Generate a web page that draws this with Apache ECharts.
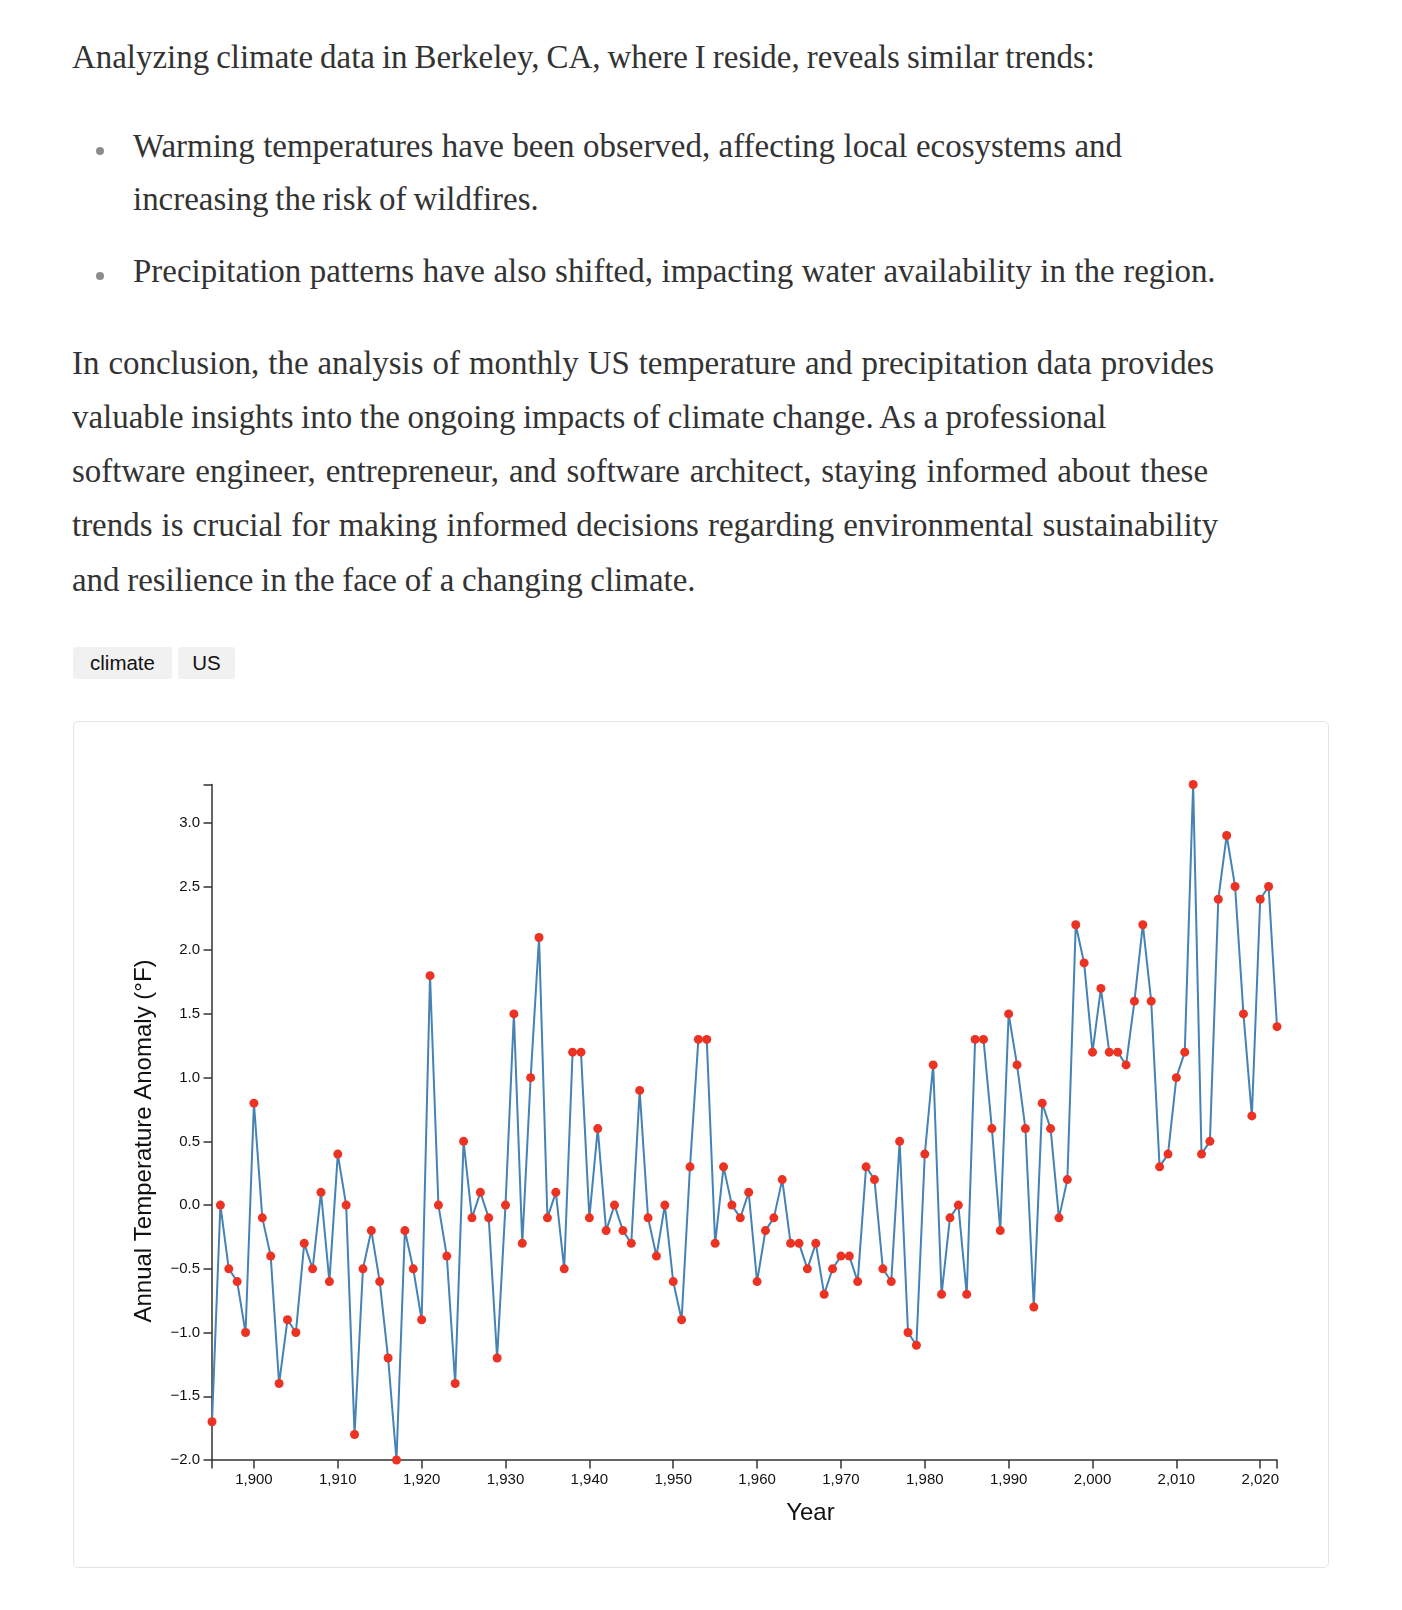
<!DOCTYPE html>
<html>
<head>
<meta charset="utf-8">
<script src="https://cdn.jsdelivr.net/npm/echarts@6/dist/echarts.min.js"></script>
<style>
html,body{margin:0;padding:0;background:#fff;}
body{width:1402px;height:1610px;position:relative;overflow:hidden;}
.t{position:absolute;white-space:nowrap;font-family:'Liberation Serif','Times New Roman',serif;color:#333;line-height:1;}
.b{position:absolute;width:8px;height:8px;border-radius:50%;background:#8c8c8c;}
.tag{position:absolute;background:#f1f1f1;border-radius:3px;font-family:'Liberation Sans',Arial,sans-serif;font-size:20.5px;color:#111;text-align:center;height:32px;line-height:32px;top:647px;}
#card{position:absolute;left:73px;top:721px;width:1256px;height:847px;box-sizing:border-box;border:1px solid #e4e4e4;border-radius:5px;}
#chart{position:absolute;left:73px;top:721px;width:1256px;height:847px;}
</style>
</head>
<body>
<div class="t" data-bl="68.3" data-w="1023" style="left:72px">Analyzing climate data in Berkeley, CA, where I reside, reveals similar trends:</div>
<div class="b" style="left:96px;top:147px"></div>
<div class="t" data-bl="157.7" data-w="989" style="left:133px">Warming temperatures have been observed, affecting local ecosystems and</div>
<div class="t" data-bl="210.7" data-w="405.7" style="left:133px">increasing the risk of wildfires.</div>
<div class="b" style="left:96px;top:272px"></div>
<div class="t" data-bl="282.3" data-w="1082.6" style="left:133px">Precipitation patterns have also shifted, impacting water availability in the region.</div>
<div class="t" data-bl="374.3" data-w="1142.1" style="left:72px">In conclusion, the analysis of monthly US temperature and precipitation data provides</div>
<div class="t" data-bl="428.5" data-w="1036.3" style="left:72px">valuable insights into the ongoing impacts of climate change. As a professional</div>
<div class="t" data-bl="482.7" data-w="1136" style="left:72px">software engineer, entrepreneur, and software architect, staying informed about these</div>
<div class="t" data-bl="536.9" data-w="1146.2" style="left:72px">trends is crucial for making informed decisions regarding environmental sustainability</div>
<div class="t" data-bl="591.1" data-w="623.5" style="left:72px">and resilience in the face of a changing climate.</div>
<div class="tag" style="left:73px;width:99px">climate</div>
<div class="tag" style="left:178px;width:57px">US</div>
<div id="card"></div>
<div id="chart"></div>
<script>
// ---- data ----
const startYear = 1895;
const anomalies = [
  -1.7, 0.0, -0.5, -0.6, -1.0,            // 1895-1899
  0.8, -0.1, -0.4, -1.4, -0.9, -1.0, -0.3, -0.5, 0.1, -0.6,   // 1900s
  0.4, 0.0, -1.8, -0.5, -0.2, -0.6, -1.2, -2.0, -0.2, -0.5,   // 1910s
  -0.9, 1.8, 0.0, -0.4, -1.4, 0.5, -0.1, 0.1, -0.1, -1.2,     // 1920s
  0.0, 1.5, -0.3, 1.0, 2.1, -0.1, 0.1, -0.5, 1.2, 1.2,        // 1930s
  -0.1, 0.6, -0.2, 0.0, -0.2, -0.3, 0.9, -0.1, -0.4, 0.0,     // 1940s
  -0.6, -0.9, 0.3, 1.3, 1.3, -0.3, 0.3, 0.0, -0.1, 0.1,       // 1950s
  -0.6, -0.2, -0.1, 0.2, -0.3, -0.3, -0.5, -0.3, -0.7, -0.5,  // 1960s
  -0.4, -0.4, -0.6, 0.3, 0.2, -0.5, -0.6, 0.5, -1.0, -1.1,    // 1970s
  0.4, 1.1, -0.7, -0.1, 0.0, -0.7, 1.3, 1.3, 0.6, -0.2,       // 1980s
  1.5, 1.1, 0.6, -0.8, 0.8, 0.6, -0.1, 0.2, 2.2, 1.9,         // 1990s
  1.2, 1.7, 1.2, 1.2, 1.1, 1.6, 2.2, 1.6, 0.3, 0.4,           // 2000s
  1.0, 1.2, 3.3, 0.4, 0.5, 2.4, 2.9, 2.5, 1.5, 0.7,           // 2010s
  2.4, 2.5, 1.4                                               // 2020-2022
];
const years = anomalies.map((_, i) => startYear + i);
const xTickLabels = [1900, 1910, 1920, 1930, 1940, 1950, 1960, 1970, 1980, 1990, 2000, 2010, 2020];
const yTickLabels = [-2.0, -1.5, -1.0, -0.5, 0.0, 0.5, 1.0, 1.5, 2.0, 2.5, 3.0];
const xTitle = 'Year';
const yTitle = 'Annual Temperature Anomaly (°F)';

// ---- text layout: fit serif size and word spacing to the reference line widths ----
(function(){
  const lines = Array.from(document.querySelectorAll('.t'));
  const ctx = document.createElement('canvas').getContext('2d');
  ctx.font = '100px "Liberation Serif"';
  let sumTarget = 0, sumMeasured = 0;
  lines.forEach(el => { sumTarget += parseFloat(el.dataset.w); sumMeasured += ctx.measureText(el.textContent).width; });
  const fs = 100 * sumTarget / sumMeasured;
  ctx.font = fs + 'px "Liberation Serif"';
  lines.forEach(el => {
    const txt = el.textContent;
    const w = ctx.measureText(txt).width;
    const spaces = (txt.match(/ /g) || []).length;
    el.style.fontSize = fs + 'px';
    if (spaces) el.style.wordSpacing = ((parseFloat(el.dataset.w) - w) / spaces) + 'px';
    el.style.top = (parseFloat(el.dataset.bl) - 0.8375 * fs) + 'px';
  });
})();

// ---- chart ----
const xMin = years[0], xMax = years[years.length - 1];
const yMin = -2.0, yMax = Math.max(...anomalies);
const axisColor = '#333';
const labelFont = {fontSize: 15, color: '#111', fontFamily: '"Liberation Sans", Arial, sans-serif'};

const chart = echarts.init(document.getElementById('chart'), null, {renderer: 'canvas'});
chart.setOption({
  animation: false,
  grid: {left: 139, right: 52, top: 63.5, bottom: 108, containLabel: false},
  xAxis: {
    type: 'value', min: xMin, max: xMax,
    axisLine: {show: true, onZero: false, lineStyle: {color: axisColor, width: 1.5}},
    axisTick: {show: true, length: 8.5, customValues: [xMin].concat(xTickLabels, [xMax]), lineStyle: {color: axisColor, width: 1.5}},
    axisLabel: Object.assign({customValues: xTickLabels, margin: 12, formatter: v => Number(v).toLocaleString('en-US')}, labelFont),
    splitLine: {show: false}
  },
  yAxis: {
    type: 'value', min: yMin, max: yMax,
    axisLine: {show: true, onZero: false, lineStyle: {color: axisColor, width: 1.5}},
    axisTick: {show: true, length: 8.5, customValues: yTickLabels.concat([yMax]), lineStyle: {color: axisColor, width: 1.5}},
    axisLabel: Object.assign({customValues: yTickLabels, margin: 12, formatter: v => (v < 0 ? '\u2212' : '') + Math.abs(v).toFixed(1)}, labelFont),
    splitLine: {show: false}
  },
  series: [{
    type: 'line',
    data: years.map((y, i) => [y, anomalies[i]]),
    symbol: 'circle', symbolSize: 9, showSymbol: true, showAllSymbol: true,
    lineStyle: {color: '#4682b4', width: 2},
    itemStyle: {color: '#ec3223'},
    emphasis: {disabled: true},
    clip: false
  }],
  graphic: [
    {type: 'text', x: 737.4, y: 792.5, silent: true,
     style: {text: xTitle, font: '24px "Liberation Sans", Arial, sans-serif', fill: '#111', textAlign: 'center', textVerticalAlign: 'middle'}},
    {type: 'text', x: 71, y: 420, rotation: Math.PI / 2, silent: true,
     style: {text: yTitle, font: '24px "Liberation Sans", Arial, sans-serif', fill: '#111', textAlign: 'center', textVerticalAlign: 'middle'}}
  ]
});
</script>
</body>
</html>
